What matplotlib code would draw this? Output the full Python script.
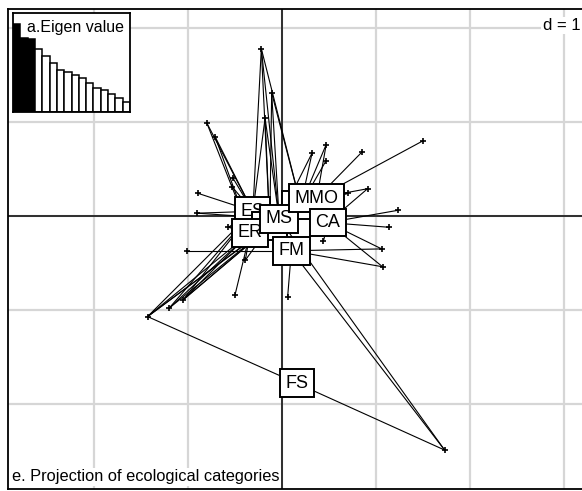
import matplotlib.pyplot as plt

plt.rcParams['font.family'] = ['Liberation Sans', 'DejaVu Sans']

# site scores on the two first axes
site_x = [-0.22, -0.11, -0.18, -0.80, -0.71, -0.52, -0.53, -0.89, -0.90, -0.57,
          -1.01, 0.47, 0.32, 0.47, 0.85, 1.50, 0.91, 0.70, 1.23, 1.14,
          1.06, 1.07, 0.44, -0.50, 0.06, -0.39, -1.43, 1.73, -1.20, -1.05]
site_y = [1.78, 1.31, 1.04, 0.99, 0.84, 0.40, 0.31, 0.24, 0.03, -0.12,
          -0.37, 0.76, 0.67, 0.59, 0.68, 0.80, 0.29, 0.24, 0.06, -0.12,
          -0.35, -0.54, -0.27, -0.84, -0.86, -0.47, -1.07, -2.49, -0.98, -0.89]

# ecological categories, in drawing order
cat_names = ['ES', 'MJ', 'ER', 'MA', 'MS', 'MMO', 'CA', 'FM', 'FS']
cat_x = [-0.31, -0.13, -0.34, 0.20, -0.03, 0.37, 0.49, 0.10, 0.16]
cat_y = [0.05, -0.11, -0.18, 0.12, -0.03, 0.19, -0.07, -0.37, -1.78]

# sites (0-based) where each category occurs
cat_sites = {
    'ES': [0, 2, 3, 4, 5, 6, 7, 8, 9, 26, 28, 29],
    'ER': [3, 4, 9, 23, 25, 26, 28, 29],
    'MJ': [0, 1, 2, 25, 26, 28, 29],
    'MA': [0, 1, 11, 12, 13, 17],
    'MS': [0, 1, 2, 8, 12, 26, 27, 29],
    'MMO': [11, 14, 15, 16, 17],
    'CA': [16, 18, 19, 20, 21, 22],
    'FM': [10, 20, 21, 24, 27],
    'FS': [26, 27],
}

eigen = [0.88, 0.74, 0.73, 0.63, 0.56, 0.49, 0.42, 0.40, 0.37, 0.34,
         0.29, 0.24, 0.22, 0.18, 0.14, 0.10]
n_kept = 3

W, H = 582, 491
fig = plt.figure(figsize=(W / 100, H / 100), dpi=100)

# main plot frame in pixels: left 8, top 9, bottom 489, right past the edge
x0, y0 = 282, 216
unit = 94
ax = fig.add_axes([8 / W, (H - 489) / H, 1 - 8 / W, (489 - 9) / H])
ax.set_xlim((8 - x0) / unit, (W - x0) / unit)
ax.set_ylim(-(489 - y0) / unit, (y0 - 9) / unit)
ax.set_xticks(range(-2, 4))
ax.set_yticks(range(-2, 3))
ax.tick_params(length=0, labelbottom=False, labelleft=False)
ax.grid(color='#d6d6d6', lw=1.6)
ax.set_axisbelow(True)
for side in ['left', 'top', 'bottom']:
    ax.spines[side].set_linewidth(1.3)
ax.spines['right'].set_visible(False)
ax.axhline(0, color='black', lw=1.1, zorder=1)
ax.axvline(0, color='black', lw=1.1, zorder=1)

# stars from each category to its sites
for name, cx, cy in zip(cat_names, cat_x, cat_y):
    for i in cat_sites[name]:
        ax.plot([cx, site_x[i]], [cy, site_y[i]], color='black', lw=0.8, zorder=2)
ax.plot(site_x, site_y, '+', color='black', ms=4, mew=1.2, zorder=3)

for name, cx, cy in zip(cat_names, cat_x, cat_y):
    ax.text(cx, cy, name, fontsize=13, ha='center', va='center', zorder=4,
            bbox=dict(boxstyle='square,pad=0.3', fc='white', ec='black', lw=1.4))

ax.text(0.997, 1 - 9 / 480, 'd = 1', transform=ax.transAxes, fontsize=12,
        ha='right', va='top', zorder=1.5,
        bbox=dict(boxstyle='square,pad=0.08', fc='white', ec='none'))
fig.text(12 / W, 1 - 477 / H, 'e. Projection of ecological categories', fontsize=11.8,
         ha='left', va='center',
         bbox=dict(boxstyle='square,pad=0.1', fc='white', ec='none'))

# eigenvalue inset
ins = fig.add_axes([13 / W, (H - 112) / H, (130 - 13) / W, (112 - 13) / H])
ins.set_facecolor('white')
colors = ['black'] * n_kept + ['white'] * (len(eigen) - n_kept)
ins.bar(range(len(eigen)), eigen, width=1, color=colors, edgecolor='black', lw=1.1)
ins.set_xlim(-0.5, len(eigen) - 0.5)
ins.set_ylim(0, eigen[0] * 99 / 88)
ins.set_xticks([])
ins.set_yticks([])
for sp in ins.spines.values():
    sp.set_linewidth(1.3)
ins.text(0.12, 0.85, 'a.Eigen value', transform=ins.transAxes, fontsize=11.5,
         ha='left', va='center',
         bbox=dict(boxstyle='square,pad=0.1', fc='white', ec='none'))

fig.savefig('out.png', dpi=100)
